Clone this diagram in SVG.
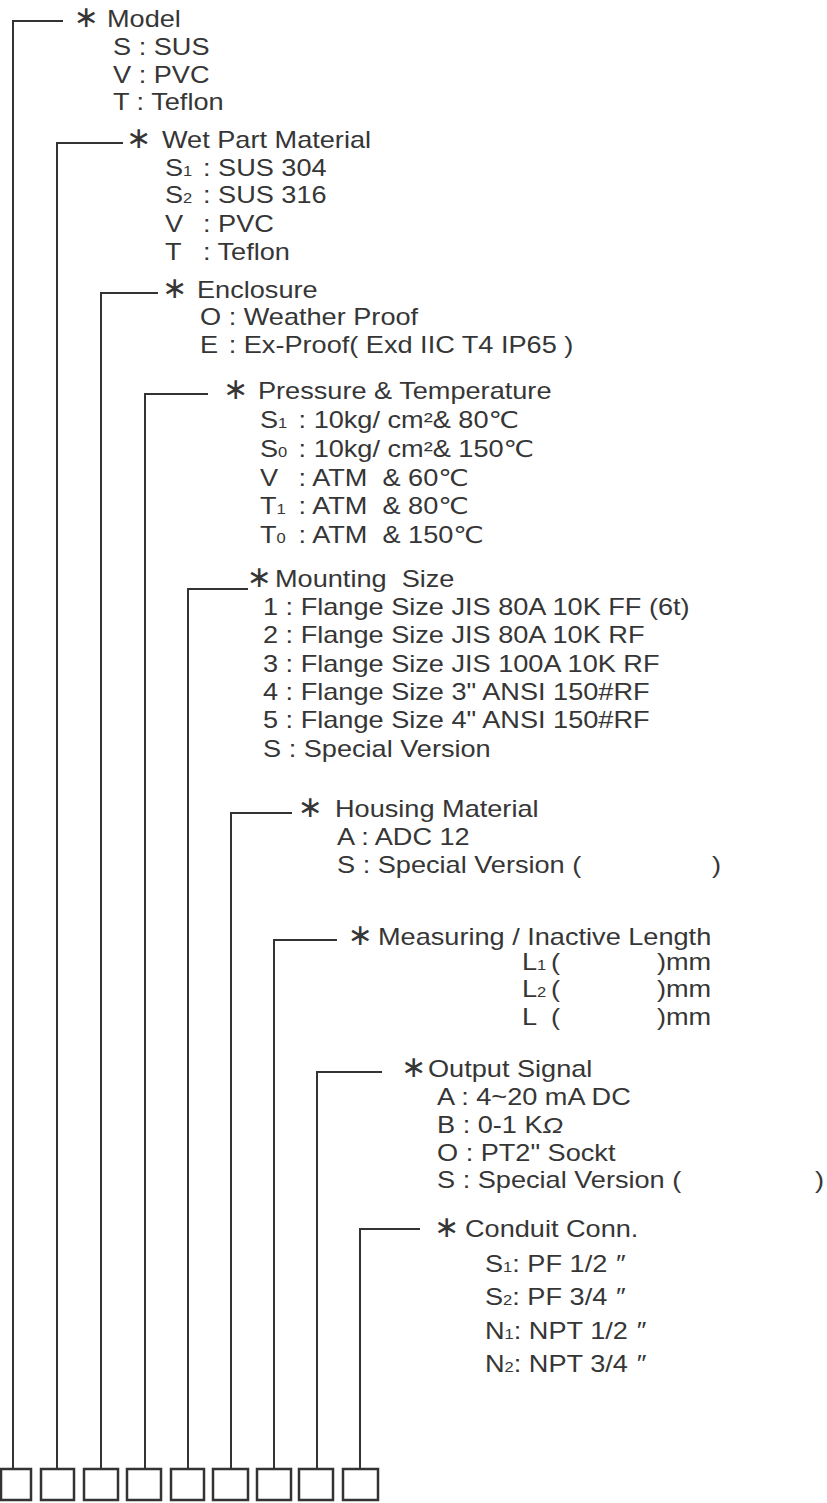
<svg xmlns="http://www.w3.org/2000/svg" width="827" height="1503" viewBox="0 0 827 1503">
<style>
.t{font-family:"Liberation Sans","DejaVu Sans",sans-serif;font-size:23px;fill:#363636}
.sub{font-size:14px}
.ast{font-family:"DejaVu Sans",sans-serif;font-size:30px;fill:#363636;text-anchor:middle}
.box{fill:#fff;stroke:#333;stroke-width:2.5}
.conn{fill:none;stroke:#333;stroke-width:2}
</style>
<rect width="827" height="1503" fill="#fff"/>
<g id="connectors">
<polyline class="conn" points="13,1469 13,21 63,21"/>
<polyline class="conn" points="57,1469 57,143 123,143"/>
<polyline class="conn" points="101,1469 101,293 158,293"/>
<polyline class="conn" points="145,1469 145,394 208,394"/>
<polyline class="conn" points="188,1469 188,589 248,589"/>
<polyline class="conn" points="231,1469 231,813 292,813"/>
<polyline class="conn" points="274,1469 274,940 337,940"/>
<polyline class="conn" points="317,1469 317,1072 382,1072"/>
<polyline class="conn" points="360,1469 360,1229 420,1229"/>
</g>
<g id="model">
<rect class="box" x="1" y="1469" width="30" height="31"/>
<text class="ast" x="86" y="27">∗</text>
<text class="t" transform="translate(107 27) scale(1.18 1)">Model</text>
<text class="t" transform="translate(113 55) scale(1.18 1)">S : SUS</text>
<text class="t" transform="translate(113 83) scale(1.18 1)">V : PVC</text>
<text class="t" transform="translate(113 110) scale(1.18 1)">T : Teflon</text>
</g>
<g id="wet-part-material">
<rect class="box" x="41" y="1469" width="33" height="31"/>
<text class="ast" x="138.5" y="148">∗</text>
<text class="t" transform="translate(162 148) scale(1.18 1)">Wet Part Material</text>
<text class="t" transform="translate(165 176) scale(1.18 1)">S<tspan class="sub">1</tspan><tspan x="32.2">: SUS 304</tspan></text>
<text class="t" transform="translate(165 203) scale(1.18 1)">S<tspan class="sub">2</tspan><tspan x="32.2">: SUS 316</tspan></text>
<text class="t" transform="translate(165 232) scale(1.18 1)">V<tspan x="32.2">: PVC</tspan></text>
<text class="t" transform="translate(165 260) scale(1.18 1)">T<tspan x="32.2">: Teflon</tspan></text>
</g>
<g id="enclosure">
<rect class="box" x="84" y="1469" width="34" height="31"/>
<text class="ast" x="174.5" y="298">∗</text>
<text class="t" transform="translate(197 298) scale(1.18 1)">Enclosure</text>
<text class="t" transform="translate(200 325) scale(1.18 1)">O : Weather Proof</text>
<text class="t" transform="translate(200 353) scale(1.18 1)">E<tspan x="24.3">: Ex-Proof( Exd IIC T4 IP65 )</tspan></text>
</g>
<g id="pressure-temperature">
<rect class="box" x="127" y="1469" width="34" height="31"/>
<text class="ast" x="235.5" y="399">∗</text>
<text class="t" transform="translate(258 399) scale(1.18 1)">Pressure &amp; Temperature</text>
<text class="t" transform="translate(260 428) scale(1.18 1)">S<tspan class="sub">1</tspan><tspan x="32.7">: 10kg/ cm²&amp; 80℃</tspan></text>
<text class="t" transform="translate(260 457) scale(1.18 1)">S<tspan class="sub">0</tspan><tspan x="32.7">: 10kg/ cm²&amp; 150℃</tspan></text>
<text class="t" transform="translate(260 486) scale(1.18 1)">V<tspan x="32.7">: ATM&#160; &amp; 60℃</tspan></text>
<text class="t" transform="translate(260 514) scale(1.18 1)">T<tspan class="sub">1</tspan><tspan x="32.7">: ATM&#160; &amp; 80℃</tspan></text>
<text class="t" transform="translate(260 543) scale(1.18 1)">T<tspan class="sub">0</tspan><tspan x="32.7">: ATM&#160; &amp; 150℃</tspan></text>
</g>
<g id="mounting-size">
<rect class="box" x="171" y="1469" width="33" height="31"/>
<text class="ast" x="259" y="587">∗</text>
<text class="t" transform="translate(275 587) scale(1.18 1)">Mounting&#160; Size</text>
<text class="t" transform="translate(263 615) scale(1.18 1)">1 : Flange Size JIS 80A 10K FF (6t)</text>
<text class="t" transform="translate(263 643) scale(1.18 1)">2 : Flange Size JIS 80A 10K RF</text>
<text class="t" transform="translate(263 672) scale(1.18 1)">3 : Flange Size JIS 100A 10K RF</text>
<text class="t" transform="translate(263 700) scale(1.18 1)">4 : Flange Size 3" ANSI 150#RF</text>
<text class="t" transform="translate(263 728) scale(1.18 1)">5 : Flange Size 4" ANSI 150#RF</text>
<text class="t" transform="translate(263 757) scale(1.18 1)">S : Special Version</text>
</g>
<g id="housing-material">
<rect class="box" x="213" y="1469" width="35" height="31"/>
<text class="ast" x="310" y="817">∗</text>
<text class="t" transform="translate(335 817) scale(1.18 1)">Housing Material</text>
<text class="t" transform="translate(337 845) scale(1.18 1)">A : ADC 12</text>
<text class="t" transform="translate(337 873) scale(1.18 1)">S : Special Version (<tspan x="317.8">)</tspan></text>
</g>
<g id="measuring-length">
<rect class="box" x="257" y="1469" width="34" height="31"/>
<text class="ast" x="360" y="945">∗</text>
<text class="t" transform="translate(378 945) scale(1.18 1)">Measuring / Inactive Length</text>
<text class="t" transform="translate(522 970) scale(1.18 1)">L<tspan class="sub">1</tspan><tspan x="24.6">(</tspan><tspan x="114.4">)mm</tspan></text>
<text class="t" transform="translate(522 997) scale(1.18 1)">L<tspan class="sub">2</tspan><tspan x="24.6">(</tspan><tspan x="114.4">)mm</tspan></text>
<text class="t" transform="translate(522 1025) scale(1.18 1)">L<tspan x="24.6">(</tspan><tspan x="114.4">)mm</tspan></text>
</g>
<g id="output-signal">
<rect class="box" x="299" y="1469" width="34" height="31"/>
<text class="ast" x="413.5" y="1077">∗</text>
<text class="t" transform="translate(428 1077) scale(1.18 1)">Output Signal</text>
<text class="t" transform="translate(437 1105) scale(1.18 1)">A : 4~20 mA DC</text>
<text class="t" transform="translate(437 1133) scale(1.18 1)">B : 0-1 K<tspan font-style="italic">Ω</tspan></text>
<text class="t" transform="translate(437 1161) scale(1.18 1)">O : PT2" Sockt</text>
<text class="t" transform="translate(437 1188) scale(1.18 1)">S : Special Version (<tspan x="320.3">)</tspan></text>
</g>
<g id="conduit-conn">
<rect class="box" x="343" y="1469" width="35" height="31"/>
<text class="ast" x="446.5" y="1237">∗</text>
<text class="t" transform="translate(465 1237) scale(1.18 1)">Conduit Conn.</text>
<text class="t" transform="translate(485 1272) scale(1.18 1)">S<tspan class="sub">1</tspan>: PF 1/2 <tspan font-style="italic">″</tspan></text>
<text class="t" transform="translate(485 1305) scale(1.18 1)">S<tspan class="sub">2</tspan>: PF 3/4 <tspan font-style="italic">″</tspan></text>
<text class="t" transform="translate(485 1339) scale(1.18 1)">N<tspan class="sub">1</tspan>: NPT 1/2 <tspan font-style="italic">″</tspan></text>
<text class="t" transform="translate(485 1372) scale(1.18 1)">N<tspan class="sub">2</tspan>: NPT 3/4 <tspan font-style="italic">″</tspan></text>
</g>
</svg>
